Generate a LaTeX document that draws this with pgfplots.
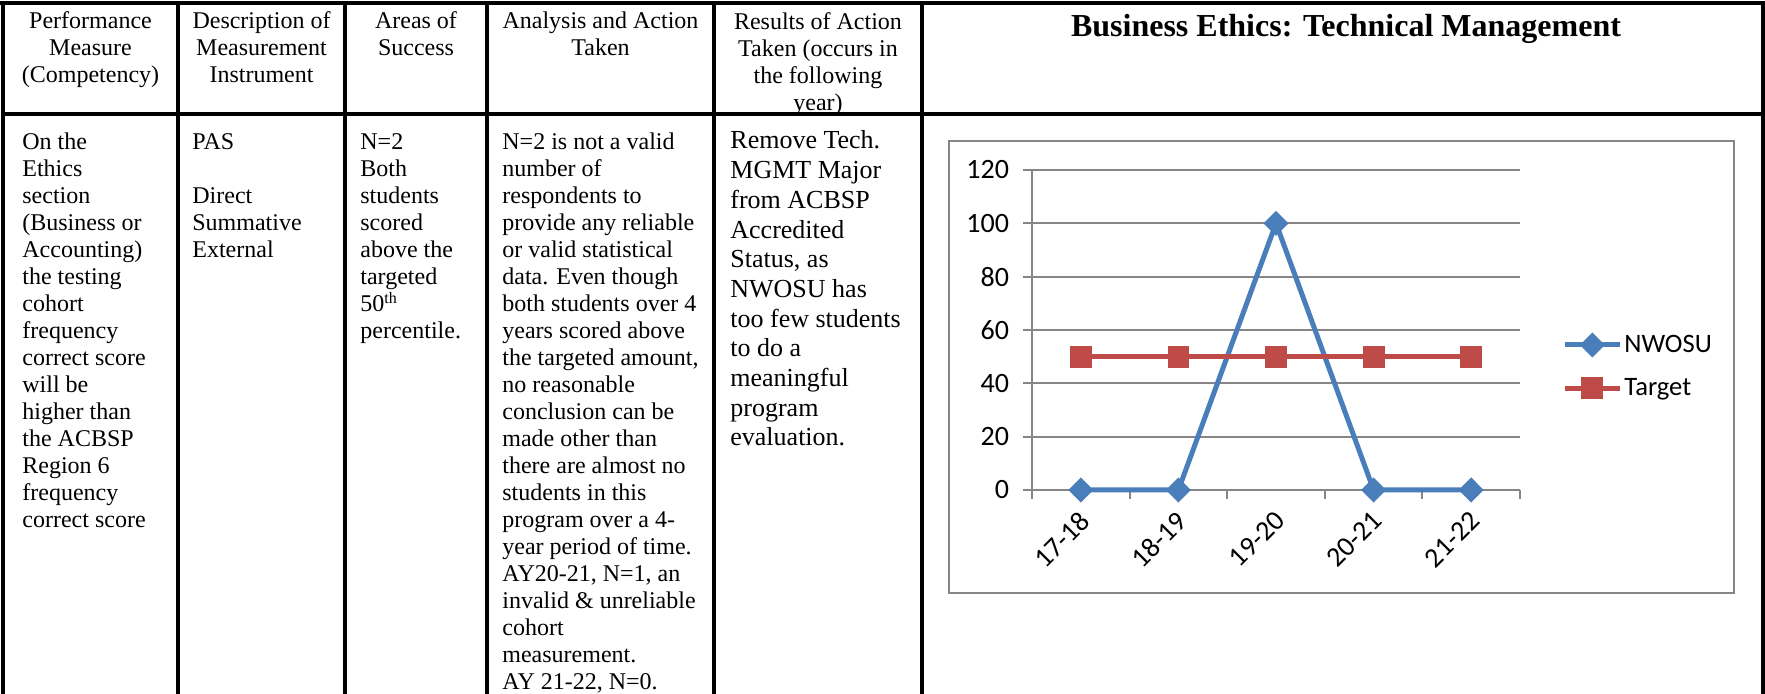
\documentclass[border=0pt]{standalone}
\usepackage{fontspec}
\setmainfont{Liberation Serif}
\newfontfamily\calibri{Carlito}
\usepackage{pgfplots}
\pgfplotsset{compat=1.18}
\definecolor{nwblue}{HTML}{4A7EBB}
\definecolor{tgred}{HTML}{BE4B48}
\definecolor{gridgray}{HTML}{868686}
\newcommand{\cellL}[5]{\node[anchor=base west,inner sep=0pt] at (#1,{694-#2}) {\fontsize{#3}{#4}\selectfont\parbox[t]{300pt}{\raggedright #5}};}
\newcommand{\cellC}[5]{\node[anchor=base,inner sep=0pt] at (#1,{694-#2}) {\fontsize{#3}{#4}\selectfont\parbox[t]{150pt}{\centering #5}};}
\newcommand{\tickfont}{\calibri\fontsize{14}{16}\selectfont}
\newcommand{\legfont}{\calibri\fontsize{13.3}{15}\selectfont}
\begin{document}
\begin{tikzpicture}[x=0.5pt,y=0.5pt]
% table rules
\draw[line width=1.6pt] (0,691) -- (1765,691);
\draw[line width=1.6pt] (3,580) -- (1763,580);
\foreach \xx in {3,178,345,487,714,922,1763}{\draw[line width=1.6pt] (\xx,691) -- (\xx,-2);}
% header
\cellC{90.5}{29}{12}{13.5}{Performance\\Measure\\(Competency)}
\cellC{261.5}{29}{12}{13.5}{Description of\\Measurement\\Instrument}
\cellC{416}{29}{12}{13.5}{Areas of\\Success}
\cellC{600.5}{29}{12}{13.5}{Analysis and Action\\Taken}
\cellC{818}{30}{12}{13.5}{Results of Action\\Taken (occurs in\\the following\\year)}
\node[anchor=base,inner sep=0pt,font=\bfseries\fontsize{16}{19}\selectfont] at (1346,657) {Business Ethics: Technical Management};
% body
\cellL{22}{150}{12}{13.5}{On the\\Ethics\\section\\(Business or\\Accounting)\\the testing\\cohort\\frequency\\correct score\\will be\\higher than\\the ACBSP\\Region 6\\frequency\\correct score}
\cellL{192}{150}{12}{13.5}{PAS\\[13.5pt]Direct\\Summative\\External}
\cellL{360}{150}{12}{13.5}{N=2\\Both\\students\\scored\\above the\\targeted\\50\textsuperscript{th}\\percentile.}
\cellL{502}{150}{12}{13.5}{N=2 is not a valid\\number of\\respondents to\\provide any reliable\\or valid statistical\\data. Even though\\both students over 4\\years scored above\\the targeted amount,\\no reasonable\\conclusion can be\\made other than\\there are almost no\\students in this\\program over a 4-\\year period of time.\\AY20-21, N=1, an\\invalid \& unreliable\\cohort\\measurement.\\AY 21-22, N=0.}
\cellL{730}{149}{13}{14.85}{Remove Tech.\\MGMT Major\\from ACBSP\\Accredited\\Status, as\\NWOSU has\\too few students\\to do a\\meaningful\\program\\evaluation.}
% chart frame
\draw[gridgray,line width=1pt] (949,101) rectangle (1734,553);
\begin{axis}[
  at={(516pt,102pt)}, anchor=south west,
  scale only axis, width=244pt, height=160pt,
  xmin=-0.5, xmax=4.5, ymin=0, ymax=120,
  clip=false,
  axis x line*=bottom, axis y line*=left,
  axis line style={gridgray,line width=1pt},
  tick align=outside, major tick length=4.5pt,
  tick style={gridgray,line width=1pt},
  ytick={0,20,...,120},
  ymajorgrids, major grid style={gridgray,line width=1pt},
  xtick={-0.5,0.5,1.5,2.5,3.5,4.5}, xticklabels={},
  extra x ticks={0,1,2,3,4},
  extra x tick labels={17-18,18-19,19-20,20-21,21-22},
  extra x tick style={major tick length=0pt},
  /pgf/number format/assume math mode=true,
  ticklabel style={font=\tickfont},
  yticklabel style={xshift=-3.5pt},
  xticklabel style={shift={(4.4pt,-10.7pt)}, rotate=45, anchor=east},
  legend style={draw=none, fill=none, at={(axis cs:4.93,46.3)}, anchor=west, inner sep=0pt, row sep=9.5pt, font=\legfont, nodes={inner sep=1pt}},
  legend cell align=left,
  legend image code/.code={\draw[mark repeat=2,mark phase=2] plot coordinates {(0pt,0pt) (13.75pt,0pt) (27.5pt,0pt)};},
]
\addplot[nwblue, line width=2.5pt, mark=diamond*, mark size=4.5pt, mark options={xscale=1.33}] coordinates {(0,0) (1,0) (2,100) (3,0) (4,0)};
\addlegendentry{NWOSU}
\addplot[tgred, line width=2.5pt, mark=square*, mark size=4.2pt] coordinates {(0,50) (1,50) (2,50) (3,50) (4,50)};
\addlegendentry{Target}
\end{axis}
\pgfresetboundingbox
\path[use as bounding box] (0,0) rectangle (1765,694);
\end{tikzpicture}
\end{document}
